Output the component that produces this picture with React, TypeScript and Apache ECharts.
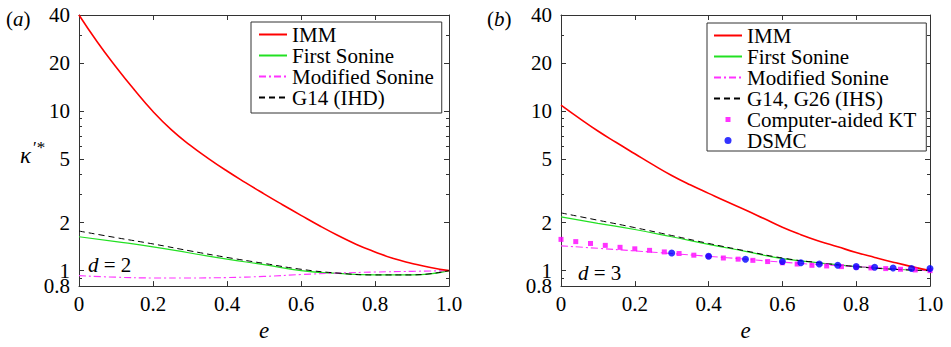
import { useEffect, useRef } from 'react';
import * as echarts from 'echarts';

// Restitution coefficient grids
const E_FINE = [0, 0.05, 0.1, 0.15, 0.2, 0.25, 0.3, 0.35, 0.4, 0.45, 0.5, 0.55, 0.6, 0.65, 0.7, 0.75, 0.8, 0.85, 0.9, 0.95, 1.0];
const E_COARSE = [0, 0.1, 0.2, 0.3, 0.4, 0.5, 0.6, 0.7, 0.8, 0.9, 1.0];
const E_KT = [0, 0.04, 0.08, 0.12, 0.16, 0.2, 0.24, 0.28, 0.32, 0.36, 0.4, 0.44, 0.48, 0.52, 0.56, 0.6, 0.64, 0.68, 0.72, 0.76, 0.8, 0.84, 0.88, 0.92, 0.96, 1.0];
const E_DSMC = [0.3, 0.4, 0.5, 0.6, 0.65, 0.7, 0.75, 0.8, 0.85, 0.9, 0.95, 1.0];

// d = 2 (hard disks)
const immD2 = [40, 27.0, 18.9, 13.55, 9.93, 7.62, 6.12, 5.04, 4.21, 3.56, 3.03, 2.59, 2.22, 1.91, 1.66, 1.46, 1.31, 1.19, 1.11, 1.045, 1.0];
const firstSonineD2 = [1.63, 1.52, 1.41, 1.29, 1.18, 1.09, 1.0, 0.96, 0.94, 0.94, 1.0];
const modSonineD2 = [0.93, 0.91, 0.9, 0.9, 0.905, 0.92, 0.945, 0.965, 0.98, 0.99, 1.0];
const g14D2 = [1.77, 1.61, 1.47, 1.33, 1.21, 1.11, 1.02, 0.965, 0.94, 0.94, 1.0];

// d = 3 (hard spheres)
const immD3 = [10.9, 9.0, 7.5, 6.35, 5.4, 4.6, 3.95, 3.45, 3.05, 2.7, 2.4, 2.12, 1.87, 1.68, 1.53, 1.41, 1.3, 1.21, 1.13, 1.06, 1.0];
const firstSonineD3 = [2.17, 1.98, 1.81, 1.63, 1.46, 1.32, 1.19, 1.12, 1.06, 1.02, 1.0];
const modSonineD3 = [1.43, 1.38, 1.33, 1.28, 1.23, 1.18, 1.13, 1.09, 1.06, 1.03, 1.0];
const g14g26D3 = [2.3, 2.07, 1.86, 1.66, 1.48, 1.33, 1.2, 1.12, 1.06, 1.02, 1.0];
const ktD3 = [1.57, 1.52, 1.48, 1.44, 1.4, 1.37, 1.34, 1.31, 1.28, 1.25, 1.23, 1.2, 1.18, 1.16, 1.14, 1.12, 1.1, 1.08, 1.07, 1.06, 1.05, 1.04, 1.03, 1.02, 1.01, 1.0];
const dsmcD3 = [1.29, 1.23, 1.18, 1.14, 1.12, 1.1, 1.08, 1.06, 1.05, 1.04, 1.03, 1.03];

// Log-scale axis ticks
const Y_MIN = 0.8;
const Y_MAX = 40;
const Y_LOW = [0.8];
const Y_LOW_LABELS = ['0.8'];
const Y_MAJOR = [1, 2, 5, 10, 20, 40];
const Y_MAJOR_LABELS = ['1', '2', '5', '10', '20', '40'];
const Y_MINOR = [0.9, 3, 4, 6, 7, 8, 9, 30];

const FONT = 'Liberation Serif';
const AXIS_COLOR = '#333';
const RED = '#ff0000';
const GREEN = '#22e022';
const MAGENTA = '#ff33ff';
const BLUE = '#0000ff';

const LOG_MIN = Math.log10(Y_MIN);
const LOG_MAX = Math.log10(Y_MAX);

const toPairs = (xs: number[], ys: number[]) => xs.map((x, i) => [x, Math.log10(ys[i])]);

const makeFmt = (ticks: number[], labels: string[]) => (v: number) => {
  const i = ticks.findIndex((t) => Math.abs(Math.log10(t) - v) < 1e-6);
  return i >= 0 ? labels[i] : '';
};

function xAxes() {
  const common = {
    type: 'value',
    min: 0,
    max: 1,
    interval: 0.2,
    splitLine: { show: false },
    axisLine: { show: true, onZero: false, lineStyle: { color: AXIS_COLOR, width: 1 } },
    axisTick: { show: true, inside: true, length: 5, lineStyle: { color: AXIS_COLOR } },
  };
  return [
    {
      ...common,
      position: 'bottom',
      axisLabel: {
        show: true,
        margin: 7,
        fontFamily: FONT,
        fontSize: 21,
        color: '#000',
        formatter: (v: number) => (v === 0 ? '0' : v.toFixed(1)),
      },
      name: 'e',
      nameLocation: 'middle',
      nameGap: 30,
      nameTextStyle: { fontFamily: FONT, fontSize: 23, fontStyle: 'italic', color: '#000' },
    },
    { ...common, position: 'top', axisLabel: { show: false } },
  ];
}

function yAxis(position: string, ticks: number[], len: number, showLine: boolean, labelTicks?: number[], labelTexts?: string[]) {
  return {
    type: 'value',
    position,
    min: LOG_MIN,
    max: LOG_MAX,
    splitLine: { show: false },
    axisLine: { show: showLine, onZero: false, lineStyle: { color: AXIS_COLOR, width: 1 } },
    axisTick: {
      show: true,
      inside: true,
      length: len,
      customValues: ticks.map((t) => Math.log10(t)),
      lineStyle: { color: AXIS_COLOR },
    },
    axisLabel: labelTicks
      ? {
          show: true,
          customValues: labelTicks.map((t) => Math.log10(t)),
          formatter: makeFmt(labelTicks, labelTexts!),
          showMinLabel: true,
          showMaxLabel: true,
          margin: 9,
          fontFamily: FONT,
          fontSize: 21,
          color: '#000',
        }
      : { show: false },
  };
}

function yAxes() {
  return [
    yAxis('left', [...Y_LOW, ...Y_MAJOR], 5, true, Y_MAJOR, Y_MAJOR_LABELS),
    yAxis('left', Y_MINOR, 3, false, Y_LOW, Y_LOW_LABELS),
    yAxis('right', [...Y_LOW, ...Y_MAJOR], 5, true),
    yAxis('right', Y_MINOR, 3, false),
  ];
}

function curve(name: string, xs: number[], ys: number[], color: string, width: number, type: any, z = 2) {
  return {
    type: 'line',
    name,
    data: toPairs(xs, ys),
    symbol: 'none',
    smooth: 0.5,
    z,
    lineStyle: { color, width, type },
    itemStyle: { color },
  };
}

const DASH_DOT = [7, 3, 2, 3];
const DASHED = [6, 4];

const SQUARE_ICON = 'path://M0 0M10 10M2.5 2.5L7.5 2.5L7.5 7.5L2.5 7.5Z';
const CIRCLE_ICON = 'path://M0 0M10 10M5 1.5A3.5 3.5 0 1 1 5 8.5A3.5 3.5 0 1 1 5 1.5Z';

// legend entries for plain curves: the line only, no marker in the middle
const lineEntry = (name: string) => ({ name, itemStyle: { opacity: 0 } });

const legendCommon = {
  orient: 'vertical',
  itemWidth: 28,
  itemHeight: 10,
  itemGap: 0,
  selectedMode: false,
  borderColor: '#333',
  borderWidth: 1,
  backgroundColor: '#fff',
  textStyle: { fontFamily: FONT, fontSize: 21, lineHeight: 19, color: '#000' },
};

const richLabel = {
  p: { fontFamily: FONT, fontSize: 21, color: '#000' },
  i: { fontFamily: FONT, fontSize: 21, fontStyle: 'italic', color: '#000' },
};

// Panel (a): d = 2, canvas spans x = 0..476
const optionA = {
  animation: false,
  grid: { left: 79, top: 15, width: 370, height: 274 },
  xAxis: xAxes(),
  yAxis: yAxes(),
  legend: {
    ...legendCommon,
    left: 251,
    top: 22,
    padding: [2, 8, 5, 7],
    data: ['IMM', 'First Sonine', 'Modified Sonine', 'G14 (IHD)'].map(lineEntry),
  },
  graphic: [
    { type: 'text', x: 6, y: 19, style: { text: '{p|(}{i|a}{p|)}', rich: richLabel, verticalAlign: 'middle' } },
    {
      type: 'text',
      x: 20,
      y: 155,
      style: { text: 'κ', fontFamily: FONT, fontSize: 23, fontStyle: 'italic', fill: '#000', verticalAlign: 'middle' },
    },
    {
      type: 'text',
      x: 33,
      y: 147,
      style: { text: '′*', fontFamily: FONT, fontSize: 17, fill: '#000', verticalAlign: 'middle' },
    },
    { type: 'text', x: 88, y: 265, style: { text: '{i|d}{p| = 2}', rich: richLabel, verticalAlign: 'middle' } },
  ],
  series: [
    curve('IMM', E_FINE, immD2, RED, 1.6, 'solid', 4),
    curve('First Sonine', E_COARSE, firstSonineD2, GREEN, 1.2, 'solid', 3),
    curve('Modified Sonine', E_COARSE, modSonineD2, MAGENTA, 1.1, DASH_DOT, 3),
    curve('G14 (IHD)', E_COARSE, g14D2, '#000', 1, DASHED, 4),
  ],
};

// Panel (b): d = 3, canvas spans x = 476..951
const optionB = {
  animation: false,
  grid: { left: 85, top: 15, width: 369, height: 274 },
  xAxis: xAxes(),
  yAxis: yAxes(),
  legend: {
    ...legendCommon,
    left: 231,
    top: 23,
    padding: [2, 10, 0, 6],
    data: [
      ...['IMM', 'First Sonine', 'Modified Sonine', 'G14, G26 (IHS)'].map(lineEntry),
      { name: 'Computer-aided KT', icon: SQUARE_ICON },
      { name: 'DSMC', icon: CIRCLE_ICON },
    ],
  },
  graphic: [
    { type: 'text', x: 11, y: 19, style: { text: '{p|(}{i|b}{p|)}', rich: richLabel, verticalAlign: 'middle' } },
    { type: 'text', x: 102, y: 273, style: { text: '{i|d}{p| = 3}', rich: richLabel, verticalAlign: 'middle' } },
  ],
  series: [
    curve('IMM', E_FINE, immD3, RED, 1.6, 'solid', 4),
    curve('First Sonine', E_COARSE, firstSonineD3, GREEN, 1.2, 'solid', 3),
    curve('Modified Sonine', E_COARSE, modSonineD3, MAGENTA, 1.1, DASH_DOT, 3),
    curve('G14, G26 (IHS)', E_COARSE, g14g26D3, '#000', 1, DASHED, 4),
    {
      type: 'scatter',
      name: 'Computer-aided KT',
      symbol: 'rect',
      symbolSize: 5,
      z: 5,
      itemStyle: { color: '#ff00ff' },
      data: toPairs(E_KT, ktD3),
    },
    {
      type: 'scatter',
      name: 'DSMC',
      symbol: 'circle',
      symbolSize: 7,
      z: 6,
      itemStyle: { color: BLUE },
      data: toPairs(E_DSMC, dsmcD3),
    },
  ],
};

function Panel({ opt, left, width }: { opt: any; left: number; width: number }) {
  const ref = useRef<HTMLDivElement>(null);
  useEffect(() => {
    const chart = echarts.init(ref.current!, null, { renderer: 'svg' });
    chart.setOption(opt);
    return () => chart.dispose();
  }, [opt]);
  return <div ref={ref} style={{ position: 'absolute', left, top: 0, width, height: 347 }} />;
}

export default function App() {
  return (
    <div style={{ position: 'fixed', left: 0, top: 0, width: 951, height: 347, background: '#fff' }}>
      <Panel opt={optionA} left={0} width={476} />
      <Panel opt={optionB} left={476} width={475} />
    </div>
  );
}
